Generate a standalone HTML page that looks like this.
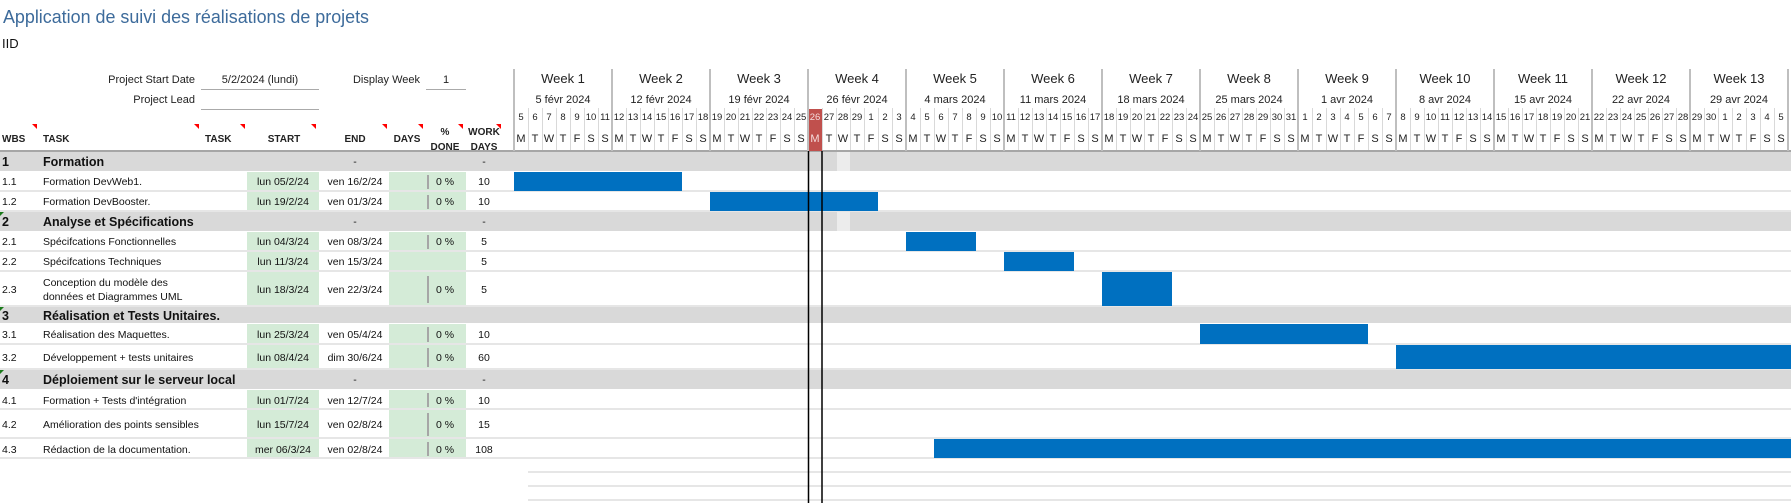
<!DOCTYPE html>
<html><head><meta charset="utf-8"><style>
html,body{margin:0;padding:0;background:#fff;width:1791px;height:503px;overflow:hidden}
svg{display:block;font-family:"Liberation Sans",Arial,sans-serif}
.t{font-size:10.5px;fill:#111}
.h{font-size:10px;font-weight:bold;fill:#222}
.g{font-size:12.5px;font-weight:bold;fill:#111}
.dn{font-size:9.5px;fill:#222;text-anchor:middle}
.dl{font-size:11px;fill:#222;text-anchor:middle}
.c{text-anchor:middle}
</style></head><body>
<svg width="1791" height="503" viewBox="0 0 1791 503" xmlns="http://www.w3.org/2000/svg">
<!-- title -->
<text x="3" y="23" font-size="18" fill="#3d6b9b" textLength="366" lengthAdjust="spacingAndGlyphs">Application de suivi des réalisations de projets</text>
<text x="2" y="48" font-size="13" fill="#111">IID</text>
<!-- project info -->
<text x="195" y="83" font-size="11" fill="#222" text-anchor="end">Project Start Date</text>
<text x="260" y="83" font-size="11" fill="#222" text-anchor="middle">5/2/2024 (lundi)</text>
<line x1="201" y1="89.5" x2="319" y2="89.5" stroke="#aaa"/>
<text x="420" y="83" font-size="11" fill="#222" text-anchor="end">Display Week</text>
<text x="446" y="83" font-size="11" fill="#222" text-anchor="middle">1</text>
<line x1="426" y1="89.5" x2="466" y2="89.5" stroke="#aaa"/>
<text x="195" y="103" font-size="11" fill="#222" text-anchor="end">Project Lead</text>
<line x1="201" y1="109.5" x2="319" y2="109.5" stroke="#aaa"/>

<!-- row backgrounds -->
<g>
<rect x="0" y="152" width="1791" height="19" fill="#d9d9d9"/>
<rect x="0" y="212" width="1791" height="19" fill="#d9d9d9"/>
<rect x="0" y="307" width="1791" height="16" fill="#d9d9d9"/>
<rect x="0" y="370" width="1791" height="19" fill="#d9d9d9"/>
<rect x="837" y="152" width="13" height="19" fill="#ececec"/>
<rect x="837" y="212" width="13" height="19" fill="#ececec"/>
<!-- green columns -->
<g fill="#d4ebd7">
<rect x="247" y="172" width="72" height="39"/><rect x="389" y="172" width="77" height="39"/>
<rect x="247" y="232" width="72" height="74"/><rect x="389" y="232" width="77" height="74"/>
<rect x="247" y="324" width="72" height="45"/><rect x="389" y="324" width="77" height="45"/>
<rect x="247" y="390" width="72" height="68"/><rect x="389" y="390" width="77" height="68"/>
</g>
<!-- row separators -->
<g stroke="#e6e6e6" stroke-width="2">
<line x1="0" y1="191" x2="1791" y2="191"/><line x1="0" y1="211" x2="1791" y2="211"/>
<line x1="0" y1="251" x2="1791" y2="251"/><line x1="0" y1="271" x2="1791" y2="271"/>
<line x1="0" y1="306" x2="1791" y2="306"/><line x1="0" y1="344" x2="1791" y2="344"/>
<line x1="0" y1="369" x2="1791" y2="369"/><line x1="0" y1="409" x2="1791" y2="409"/>
<line x1="0" y1="438" x2="1791" y2="438"/><line x1="0" y1="458" x2="1791" y2="458"/>
<line x1="528" y1="472" x2="1791" y2="472"/><line x1="528" y1="486" x2="1791" y2="486"/>
<line x1="528" y1="500" x2="1791" y2="500"/>
</g>
<!-- grey bars in % col -->
<g fill="#a6a6a6">
<rect x="427" y="175" width="2" height="14"/><rect x="427" y="195" width="2" height="14"/>
<rect x="427" y="235" width="2" height="14"/><rect x="427" y="276" width="2" height="27"/>
<rect x="427" y="327" width="2" height="15"/><rect x="427" y="348" width="2" height="19"/>
<rect x="427" y="393" width="2" height="14"/><rect x="427" y="413" width="2" height="23"/>
<rect x="427" y="442" width="2" height="14"/>
</g>
</g>

<!-- gantt bars -->
<g fill="#0070c0">
<rect x="514" y="172" width="168" height="19"/>
<rect x="710" y="192" width="168" height="19"/>
<rect x="906" y="232" width="70" height="19"/>
<rect x="1004" y="252" width="70" height="19"/>
<rect x="1102" y="272" width="70" height="34"/>
<rect x="1200" y="324" width="168" height="20"/>
<rect x="1396" y="345" width="395" height="24"/>
<rect x="934" y="439" width="857" height="19"/>
</g>

<!-- header labels -->
<text class="h" x="2" y="142">WBS</text>
<text class="h" x="43" y="142">TASK</text>
<text class="h" x="205" y="142">TASK</text>
<text class="h c" x="284" y="142">START</text>
<text class="h c" x="355" y="142">END</text>
<text class="h c" x="407" y="142">DAYS</text>
<text class="h c" x="445" y="135">%</text>
<text class="h c" x="445" y="150">DONE</text>
<text class="h c" x="484" y="135">WORK</text>
<text class="h c" x="484" y="150">DAYS</text>
<g fill="#ff0000">
<polygon points="32,124 37,124 37,129"/><polygon points="194,124 199,124 199,129"/>
<polygon points="240,124 245,124 245,129"/><polygon points="311,124 316,124 316,129"/>
<polygon points="382,124 387,124 387,129"/><polygon points="418,124 423,124 423,129"/>
<polygon points="458,124 463,124 463,129"/><polygon points="496,124 501,124 501,129"/>
</g>
<line x1="0" y1="151" x2="1791" y2="151" stroke="#a6a6a6" stroke-width="2"/>

<!-- group markers -->
<g fill="#1a7a1a">
<polygon points="0,212 4,212 0,216"/><polygon points="0,307 4,307 0,311"/><polygon points="0,370 4,370 0,374"/>
</g>

<!-- rows text -->
<text class="g" x="2" y="166">1</text><text class="g" x="43" y="166">Formation</text>
<text class="t c" x="355" y="165">-</text><text class="t c" x="484" y="165">-</text>

<text class="t" x="2" y="185">1.1</text><text class="t" x="43" y="185">Formation DevWeb1.</text>
<text class="t c" x="283" y="185">lun 05/2/24</text><text class="t c" x="355" y="185">ven 16/2/24</text>
<text class="t c" x="445" y="185">0 %</text><text class="t c" x="484" y="185">10</text>

<text class="t" x="2" y="205">1.2</text><text class="t" x="43" y="205">Formation DevBooster.</text>
<text class="t c" x="283" y="205">lun 19/2/24</text><text class="t c" x="355" y="205">ven 01/3/24</text>
<text class="t c" x="445" y="205">0 %</text><text class="t c" x="484" y="205">10</text>

<text class="g" x="2" y="226">2</text><text class="g" x="43" y="226">Analyse et Spécifications</text>
<text class="t c" x="355" y="225">-</text><text class="t c" x="484" y="225">-</text>

<text class="t" x="2" y="245">2.1</text><text class="t" x="43" y="245">Spécifcations Fonctionnelles</text>
<text class="t c" x="283" y="245">lun 04/3/24</text><text class="t c" x="355" y="245">ven 08/3/24</text>
<text class="t c" x="445" y="245">0 %</text><text class="t c" x="484" y="245">5</text>

<text class="t" x="2" y="265">2.2</text><text class="t" x="43" y="265">Spécifcations Techniques</text>
<text class="t c" x="283" y="265">lun 11/3/24</text><text class="t c" x="355" y="265">ven 15/3/24</text>
<text class="t c" x="484" y="265">5</text>

<text class="t" x="2" y="293">2.3</text><text class="t" x="43" y="286">Conception du modèle des</text><text class="t" x="43" y="300">données et Diagrammes UML</text>
<text class="t c" x="283" y="293">lun 18/3/24</text><text class="t c" x="355" y="293">ven 22/3/24</text>
<text class="t c" x="445" y="293">0 %</text><text class="t c" x="484" y="293">5</text>

<text class="g" x="2" y="320">3</text><text class="g" x="43" y="320">Réalisation et Tests Unitaires.</text>

<text class="t" x="2" y="338">3.1</text><text class="t" x="43" y="338">Réalisation des Maquettes.</text>
<text class="t c" x="283" y="338">lun 25/3/24</text><text class="t c" x="355" y="338">ven 05/4/24</text>
<text class="t c" x="445" y="338">0 %</text><text class="t c" x="484" y="338">10</text>

<text class="t" x="2" y="361">3.2</text><text class="t" x="43" y="361">Développement + tests unitaires</text>
<text class="t c" x="283" y="361">lun 08/4/24</text><text class="t c" x="355" y="361">dim 30/6/24</text>
<text class="t c" x="445" y="361">0 %</text><text class="t c" x="484" y="361">60</text>

<text class="g" x="2" y="384">4</text><text class="g" x="43" y="384">Déploiement sur le serveur local</text>
<text class="t c" x="355" y="383">-</text><text class="t c" x="484" y="383">-</text>

<text class="t" x="2" y="404">4.1</text><text class="t" x="43" y="404">Formation + Tests d'intégration</text>
<text class="t c" x="283" y="404">lun 01/7/24</text><text class="t c" x="355" y="404">ven 12/7/24</text>
<text class="t c" x="445" y="404">0 %</text><text class="t c" x="484" y="404">10</text>

<text class="t" x="2" y="428">4.2</text><text class="t" x="43" y="428">Amélioration des points sensibles</text>
<text class="t c" x="283" y="428">lun 15/7/24</text><text class="t c" x="355" y="428">ven 02/8/24</text>
<text class="t c" x="445" y="428">0 %</text><text class="t c" x="484" y="428">15</text>

<text class="t" x="2" y="453">4.3</text><text class="t" x="43" y="453">Rédaction de la documentation.</text>
<text class="t c" x="283" y="453">mer 06/3/24</text><text class="t c" x="355" y="453">ven 02/8/24</text>
<text class="t c" x="445" y="453">0 %</text><text class="t c" x="484" y="453">108</text>

<!-- gantt header: today highlight -->
<rect x="808" y="109" width="14" height="42" fill="#c0504d"/>

<!-- day separators -->
<g stroke="#d9d9d9" stroke-width="1">
<path d="M528.5 108V150M542.5 108V150M556.5 108V150M570.5 108V150M584.5 108V150M598.5 108V150
M626.5 108V150M640.5 108V150M654.5 108V150M668.5 108V150M682.5 108V150M696.5 108V150
M724.5 108V150M738.5 108V150M752.5 108V150M766.5 108V150M780.5 108V150M794.5 108V150
M822.5 108V150M836.5 108V150M850.5 108V150M864.5 108V150M878.5 108V150M892.5 108V150
M920.5 108V150M934.5 108V150M948.5 108V150M962.5 108V150M976.5 108V150M990.5 108V150
M1018.5 108V150M1032.5 108V150M1046.5 108V150M1060.5 108V150M1074.5 108V150M1088.5 108V150
M1116.5 108V150M1130.5 108V150M1144.5 108V150M1158.5 108V150M1172.5 108V150M1186.5 108V150
M1214.5 108V150M1228.5 108V150M1242.5 108V150M1256.5 108V150M1270.5 108V150M1284.5 108V150
M1312.5 108V150M1326.5 108V150M1340.5 108V150M1354.5 108V150M1368.5 108V150M1382.5 108V150
M1410.5 108V150M1424.5 108V150M1438.5 108V150M1452.5 108V150M1466.5 108V150M1480.5 108V150
M1508.5 108V150M1522.5 108V150M1536.5 108V150M1550.5 108V150M1564.5 108V150M1578.5 108V150
M1606.5 108V150M1620.5 108V150M1634.5 108V150M1648.5 108V150M1662.5 108V150M1676.5 108V150
M1704.5 108V150M1718.5 108V150M1732.5 108V150M1746.5 108V150M1760.5 108V150M1774.5 108V150"/>
</g>
<!-- week separators -->
<g stroke="#bfbfbf" stroke-width="2">
<path d="M514 69V151M612 69V151M710 69V151M808 69V151M906 69V151M1004 69V151M1102 69V151M1200 69V151M1298 69V151M1396 69V151M1494 69V151M1592 69V151M1690 69V151M1788 69V151"/>
</g>

<!-- week labels -->
<g font-size="13" fill="#222" text-anchor="middle">
<text x="563" y="83">Week 1</text><text x="661" y="83">Week 2</text><text x="759" y="83">Week 3</text>
<text x="857" y="83">Week 4</text><text x="955" y="83">Week 5</text><text x="1053" y="83">Week 6</text>
<text x="1151" y="83">Week 7</text><text x="1249" y="83">Week 8</text><text x="1347" y="83">Week 9</text>
<text x="1445" y="83">Week 10</text><text x="1543" y="83">Week 11</text><text x="1641" y="83">Week 12</text>
<text x="1739" y="83">Week 13</text>
</g>
<g font-size="11" fill="#222" text-anchor="middle">
<text x="563" y="103">5 févr 2024</text><text x="661" y="103">12 févr 2024</text><text x="759" y="103">19 févr 2024</text>
<text x="857" y="103">26 févr 2024</text><text x="955" y="103">4 mars 2024</text><text x="1053" y="103">11 mars 2024</text>
<text x="1151" y="103">18 mars 2024</text><text x="1249" y="103">25 mars 2024</text><text x="1347" y="103">1 avr 2024</text>
<text x="1445" y="103">8 avr 2024</text><text x="1543" y="103">15 avr 2024</text><text x="1641" y="103">22 avr 2024</text>
<text x="1739" y="103">29 avr 2024</text>
</g>

<!-- day numbers -->
<g class="dn">
<text class="dn" x="521" y="120">5</text><text class="dn" x="535" y="120">6</text><text class="dn" x="549" y="120">7</text><text class="dn" x="563" y="120">8</text><text class="dn" x="577" y="120">9</text><text class="dn" x="591" y="120" font-size="8.5">10</text><text class="dn" x="605" y="120" font-size="8.5">11</text>
<text class="dn" x="619" y="120" font-size="8.5">12</text><text class="dn" x="633" y="120" font-size="8.5">13</text><text class="dn" x="647" y="120" font-size="8.5">14</text><text class="dn" x="661" y="120" font-size="8.5">15</text><text class="dn" x="675" y="120" font-size="8.5">16</text><text class="dn" x="689" y="120" font-size="8.5">17</text><text class="dn" x="703" y="120" font-size="8.5">18</text>
<text class="dn" x="717" y="120" font-size="8.5">19</text><text class="dn" x="731" y="120" font-size="8.5">20</text><text class="dn" x="745" y="120" font-size="8.5">21</text><text class="dn" x="759" y="120" font-size="8.5">22</text><text class="dn" x="773" y="120" font-size="8.5">23</text><text class="dn" x="787" y="120" font-size="8.5">24</text><text class="dn" x="801" y="120" font-size="8.5">25</text>
<text class="dn" x="815" y="120" font-size="8.5" fill="#fff" style="fill:#f4dcdc">26</text><text class="dn" x="829" y="120" font-size="8.5">27</text><text class="dn" x="843" y="120" font-size="8.5">28</text><text class="dn" x="857" y="120" font-size="8.5">29</text><text class="dn" x="871" y="120">1</text><text class="dn" x="885" y="120">2</text><text class="dn" x="899" y="120">3</text>
<text class="dn" x="913" y="120">4</text><text class="dn" x="927" y="120">5</text><text class="dn" x="941" y="120">6</text><text class="dn" x="955" y="120">7</text><text class="dn" x="969" y="120">8</text><text class="dn" x="983" y="120">9</text><text class="dn" x="997" y="120" font-size="8.5">10</text>
<text class="dn" x="1011" y="120" font-size="8.5">11</text><text class="dn" x="1025" y="120" font-size="8.5">12</text><text class="dn" x="1039" y="120" font-size="8.5">13</text><text class="dn" x="1053" y="120" font-size="8.5">14</text><text class="dn" x="1067" y="120" font-size="8.5">15</text><text class="dn" x="1081" y="120" font-size="8.5">16</text><text class="dn" x="1095" y="120" font-size="8.5">17</text>
<text class="dn" x="1109" y="120" font-size="8.5">18</text><text class="dn" x="1123" y="120" font-size="8.5">19</text><text class="dn" x="1137" y="120" font-size="8.5">20</text><text class="dn" x="1151" y="120" font-size="8.5">21</text><text class="dn" x="1165" y="120" font-size="8.5">22</text><text class="dn" x="1179" y="120" font-size="8.5">23</text><text class="dn" x="1193" y="120" font-size="8.5">24</text>
<text class="dn" x="1207" y="120" font-size="8.5">25</text><text class="dn" x="1221" y="120" font-size="8.5">26</text><text class="dn" x="1235" y="120" font-size="8.5">27</text><text class="dn" x="1249" y="120" font-size="8.5">28</text><text class="dn" x="1263" y="120" font-size="8.5">29</text><text class="dn" x="1277" y="120" font-size="8.5">30</text><text class="dn" x="1291" y="120" font-size="8.5">31</text>
<text class="dn" x="1305" y="120">1</text><text class="dn" x="1319" y="120">2</text><text class="dn" x="1333" y="120">3</text><text class="dn" x="1347" y="120">4</text><text class="dn" x="1361" y="120">5</text><text class="dn" x="1375" y="120">6</text><text class="dn" x="1389" y="120">7</text>
<text class="dn" x="1403" y="120">8</text><text class="dn" x="1417" y="120">9</text><text class="dn" x="1431" y="120" font-size="8.5">10</text><text class="dn" x="1445" y="120" font-size="8.5">11</text><text class="dn" x="1459" y="120" font-size="8.5">12</text><text class="dn" x="1473" y="120" font-size="8.5">13</text><text class="dn" x="1487" y="120" font-size="8.5">14</text>
<text class="dn" x="1501" y="120" font-size="8.5">15</text><text class="dn" x="1515" y="120" font-size="8.5">16</text><text class="dn" x="1529" y="120" font-size="8.5">17</text><text class="dn" x="1543" y="120" font-size="8.5">18</text><text class="dn" x="1557" y="120" font-size="8.5">19</text><text class="dn" x="1571" y="120" font-size="8.5">20</text><text class="dn" x="1585" y="120" font-size="8.5">21</text>
<text class="dn" x="1599" y="120" font-size="8.5">22</text><text class="dn" x="1613" y="120" font-size="8.5">23</text><text class="dn" x="1627" y="120" font-size="8.5">24</text><text class="dn" x="1641" y="120" font-size="8.5">25</text><text class="dn" x="1655" y="120" font-size="8.5">26</text><text class="dn" x="1669" y="120" font-size="8.5">27</text><text class="dn" x="1683" y="120" font-size="8.5">28</text>
<text class="dn" x="1697" y="120" font-size="8.5">29</text><text class="dn" x="1711" y="120" font-size="8.5">30</text><text class="dn" x="1725" y="120">1</text><text class="dn" x="1739" y="120">2</text><text class="dn" x="1753" y="120">3</text><text class="dn" x="1767" y="120">4</text><text class="dn" x="1781" y="120">5</text>
</g>

<!-- day letters -->
<g>
<text class="dl" x="521" y="142">M</text><text class="dl" x="535" y="142">T</text><text class="dl" x="549" y="142">W</text><text class="dl" x="563" y="142">T</text><text class="dl" x="577" y="142">F</text><text class="dl" x="591" y="142">S</text><text class="dl" x="605" y="142">S</text>
<text class="dl" x="619" y="142">M</text><text class="dl" x="633" y="142">T</text><text class="dl" x="647" y="142">W</text><text class="dl" x="661" y="142">T</text><text class="dl" x="675" y="142">F</text><text class="dl" x="689" y="142">S</text><text class="dl" x="703" y="142">S</text>
<text class="dl" x="717" y="142">M</text><text class="dl" x="731" y="142">T</text><text class="dl" x="745" y="142">W</text><text class="dl" x="759" y="142">T</text><text class="dl" x="773" y="142">F</text><text class="dl" x="787" y="142">S</text><text class="dl" x="801" y="142">S</text>
<text class="dl" x="815" y="142" style="fill:#f4dcdc">M</text><text class="dl" x="829" y="142">T</text><text class="dl" x="843" y="142">W</text><text class="dl" x="857" y="142">T</text><text class="dl" x="871" y="142">F</text><text class="dl" x="885" y="142">S</text><text class="dl" x="899" y="142">S</text>
<text class="dl" x="913" y="142">M</text><text class="dl" x="927" y="142">T</text><text class="dl" x="941" y="142">W</text><text class="dl" x="955" y="142">T</text><text class="dl" x="969" y="142">F</text><text class="dl" x="983" y="142">S</text><text class="dl" x="997" y="142">S</text>
<text class="dl" x="1011" y="142">M</text><text class="dl" x="1025" y="142">T</text><text class="dl" x="1039" y="142">W</text><text class="dl" x="1053" y="142">T</text><text class="dl" x="1067" y="142">F</text><text class="dl" x="1081" y="142">S</text><text class="dl" x="1095" y="142">S</text>
<text class="dl" x="1109" y="142">M</text><text class="dl" x="1123" y="142">T</text><text class="dl" x="1137" y="142">W</text><text class="dl" x="1151" y="142">T</text><text class="dl" x="1165" y="142">F</text><text class="dl" x="1179" y="142">S</text><text class="dl" x="1193" y="142">S</text>
<text class="dl" x="1207" y="142">M</text><text class="dl" x="1221" y="142">T</text><text class="dl" x="1235" y="142">W</text><text class="dl" x="1249" y="142">T</text><text class="dl" x="1263" y="142">F</text><text class="dl" x="1277" y="142">S</text><text class="dl" x="1291" y="142">S</text>
<text class="dl" x="1305" y="142">M</text><text class="dl" x="1319" y="142">T</text><text class="dl" x="1333" y="142">W</text><text class="dl" x="1347" y="142">T</text><text class="dl" x="1361" y="142">F</text><text class="dl" x="1375" y="142">S</text><text class="dl" x="1389" y="142">S</text>
<text class="dl" x="1403" y="142">M</text><text class="dl" x="1417" y="142">T</text><text class="dl" x="1431" y="142">W</text><text class="dl" x="1445" y="142">T</text><text class="dl" x="1459" y="142">F</text><text class="dl" x="1473" y="142">S</text><text class="dl" x="1487" y="142">S</text>
<text class="dl" x="1501" y="142">M</text><text class="dl" x="1515" y="142">T</text><text class="dl" x="1529" y="142">W</text><text class="dl" x="1543" y="142">T</text><text class="dl" x="1557" y="142">F</text><text class="dl" x="1571" y="142">S</text><text class="dl" x="1585" y="142">S</text>
<text class="dl" x="1599" y="142">M</text><text class="dl" x="1613" y="142">T</text><text class="dl" x="1627" y="142">W</text><text class="dl" x="1641" y="142">T</text><text class="dl" x="1655" y="142">F</text><text class="dl" x="1669" y="142">S</text><text class="dl" x="1683" y="142">S</text>
<text class="dl" x="1697" y="142">M</text><text class="dl" x="1711" y="142">T</text><text class="dl" x="1725" y="142">W</text><text class="dl" x="1739" y="142">T</text><text class="dl" x="1753" y="142">F</text><text class="dl" x="1767" y="142">S</text><text class="dl" x="1781" y="142">S</text>
</g>

<!-- today lines -->
<line x1="808.5" y1="151" x2="808.5" y2="503" stroke="#000" stroke-width="1.5"/>
<line x1="822" y1="151" x2="822" y2="503" stroke="#000" stroke-width="1.5"/>
</svg>
</body></html>
